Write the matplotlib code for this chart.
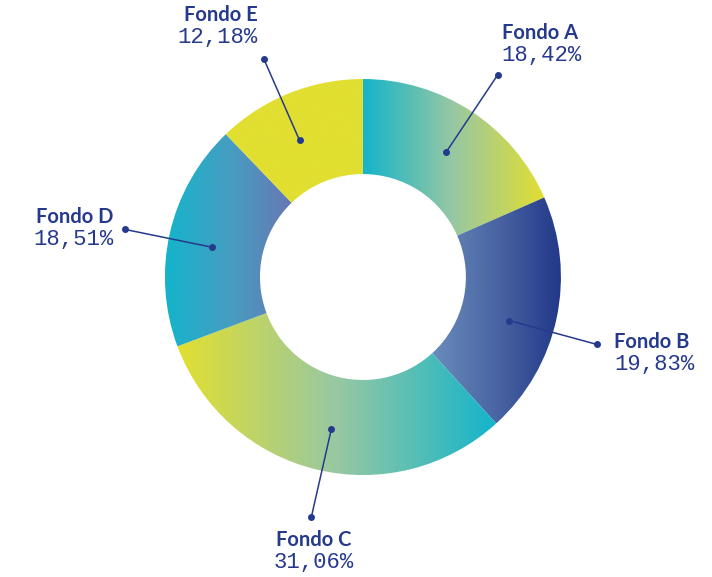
import numpy as np
import matplotlib
matplotlib.use("Agg")
import matplotlib.pyplot as plt
from matplotlib.colors import LinearSegmentedColormap

# datos del gráfico
fondos = ['Fondo A', 'Fondo B', 'Fondo C', 'Fondo D', 'Fondo E']
porcentajes = [18.42, 19.83, 31.06, 18.51, 12.18]
etiquetas = ['18,42%', '19,83%', '31,06%', '18,51%', '12,18%']

# degradados horizontales (izquierda -> derecha) por fondo
degradados = [
    ['#14b4cb', '#98c8a2', '#e2df30'],
    ['#6a8cbb', '#4a65a3', '#223889'],
    ['#e2df30', '#98c8a2', '#14b4cb'],
    ['#14b4cb', '#459fc2', '#6877b3'],
    ['#e1df31', '#e1df31'],
]

# posiciones de las etiquetas (punto interior, punto exterior, texto)
guias = [
    ((0.42, 0.63), (0.68, 1.02), (0.70, 1.18), 'left'),
    ((0.74, -0.22), (1.18, -0.34), (1.27, -0.38), 'left'),
    ((-0.16, -0.77), (-0.26, -1.21), (-0.25, -1.38), 'center'),
    ((-0.76, 0.15), (-1.20, 0.24), (-1.26, 0.255), 'right'),
    ((-0.32, 0.69), (-0.50, 1.10), (-0.53, 1.275), 'right'),
]

azul = '#263a8d'

fig = plt.figure(figsize=(7.12, 5.77), dpi=100)
ax = fig.add_axes([0, 0, 1, 1])

wedges, _ = ax.pie(porcentajes, startangle=90, counterclock=False, radius=1.0,
                   wedgeprops=dict(width=0.48, linewidth=0))

grad = np.linspace(0, 1, 256).reshape(1, -1)
for w, cols in zip(wedges, degradados):
    w.set_facecolor('none')
    bb = w.get_path().get_extents()
    cmap = LinearSegmentedColormap.from_list('g', cols)
    im = ax.imshow(grad, cmap=cmap, aspect='auto', interpolation='bicubic',
                   extent=[bb.x0, bb.x1, bb.y0, bb.y1], zorder=1)
    im.set_clip_path(w)

for nombre, etq, (p_in, p_out, p_txt, ha) in zip(fondos, etiquetas, guias):
    ax.plot([p_in[0], p_out[0]], [p_in[1], p_out[1]], color=azul, lw=1.1, zorder=3)
    ax.plot([p_in[0], p_out[0]], [p_in[1], p_out[1]], 'o', color=azul, ms=4, zorder=4)
    ax.text(p_txt[0], p_txt[1], nombre, ha=ha, va='bottom', color=azul,
            fontsize=14.5, fontweight='bold', family='Lato')
    ax.text(p_txt[0], p_txt[1] - 0.01, etq, ha=ha, va='top', color=azul,
            fontsize=16, family='Liberation Mono')

ax.set_xlim(-1.833, 1.763)
ax.set_ylim(-1.515, 1.399)
ax.set_aspect('equal', adjustable='datalim')
ax.axis('off')

plt.savefig('out.png', dpi=100)
